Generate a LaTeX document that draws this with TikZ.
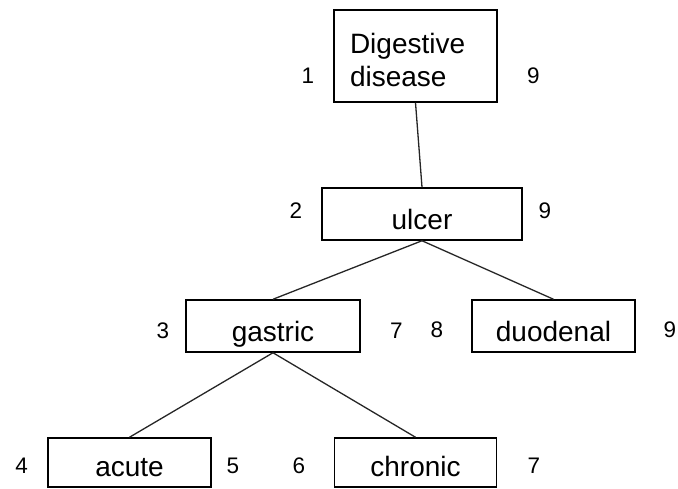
\documentclass[tikz,border=0pt]{standalone}
\usepackage{fontspec}
\setmainfont{Liberation Sans}
\begin{document}
\begin{tikzpicture}[x=1pt,y=-1pt,
  termbox/.style={draw, line width=1.5pt, inner xsep=0pt, inner ysep=0pt,
    font=\fontsize{28}{33.6}\selectfont, text height=30pt, text depth=0pt},
  rank/.style={anchor=base, inner sep=0pt, font=\fontsize{22.5}{27}\selectfont},
  branch/.style={line width=1.3pt, draw=black!85}]
  \useasboundingbox (0,0) rectangle (678,488);

  % tree nodes
  \node[termbox, minimum width=163pt, minimum height=92pt, text height=, text depth=,
        text width=131pt, align=left, inner xsep=16pt] (dig) at (415.5,56)
        {\rule{0pt}{28pt}Digestive\\disease};
  \node[termbox, minimum width=200pt, minimum height=52pt] (ulc) at (422,214) {ulcer};
  \node[termbox, minimum width=174pt, minimum height=52pt] (gas) at (273,326) {gastric};
  \node[termbox, minimum width=163pt, minimum height=52pt] (duo) at (553.5,326) {duodenal};
  \node[termbox, minimum width=163pt, minimum height=49pt, text height=27pt] (acu) at (129.5,462.5) {acute};
  \node[termbox, minimum width=162pt, minimum height=49pt, text height=27pt] (chr) at (415.5,462.5) {chronic};

  % branches
  \draw[branch] (dig.south) -- (ulc.north);
  \draw[branch] (ulc.south) -- (gas.north);
  \draw[branch] (ulc.south) -- (duo.north);
  \draw[branch] (gas.south) -- (acu.north);
  \draw[branch] (gas.south) -- (chr.north);

  % left and right numbers
  \node[rank] (n1)  at (308,83)    {1};
  \node[rank] (n9a) at (533.5,83)  {9};
  \node[rank] (n2)  at (296,218)   {2};
  \node[rank] (n9b) at (545,218)   {9};
  \node[rank] (n3)  at (163,338)   {3};
  \node[rank] (n7a) at (396.5,338) {7};
  \node[rank] (n8)  at (437,337)   {8};
  \node[rank] (n9c) at (670,337)   {9};
  \node[rank] (n4)  at (21.7,473)  {4};
  \node[rank] (n5)  at (233,473)   {5};
  \node[rank] (n6)  at (299,473)   {6};
  \node[rank] (n7b) at (534,473)   {7};
\end{tikzpicture}
\end{document}
